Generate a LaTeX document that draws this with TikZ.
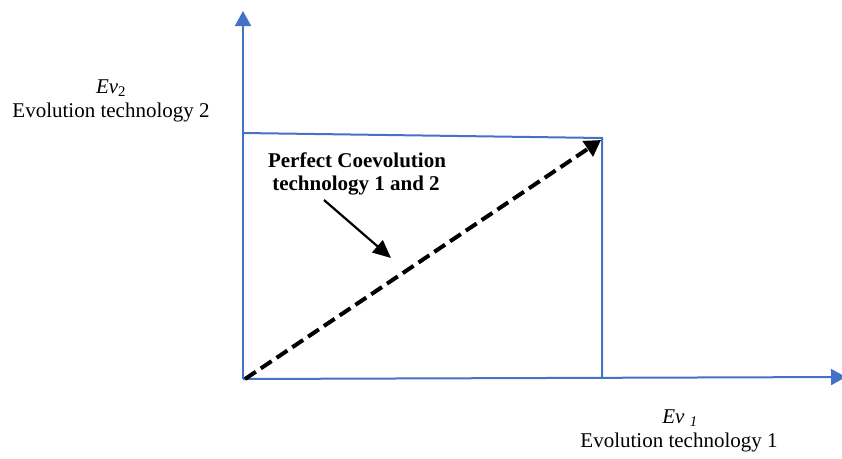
\documentclass[tikz,border=0pt]{standalone}
\usepackage{fontspec}
\setmainfont{Liberation Serif}
\usetikzlibrary{arrows.meta}
\definecolor{axisblue}{RGB}{68,114,196}
\tikzset{
  axisline/.style={draw=axisblue, line width=2pt},
  axisarrow/.style={axisline, -{Triangle[length=15pt,width=16pt]}},
  lbl/.style={font=\fontsize{21}{24}\selectfont, anchor=base, inner sep=0pt},
  boldlbl/.style={font=\fontsize{21}{24}\selectfont\bfseries, anchor=base, inner sep=0pt},
  diag/.style={draw=black, line width=4pt, dash pattern=on 13pt off 6pt, -{Triangle[length=16pt,width=18pt]}},
  pointer/.style={draw=black, line width=2.2pt, -{Triangle[length=18pt,width=16pt]}}
}
\begin{document}
\begin{tikzpicture}[x=1pt,y=-1pt]
\useasboundingbox (0,0) rectangle (842,458);
\coordinate (O) at (243,379);
\coordinate (Ytip) at (243,11);
\coordinate (Xtip) at (846,377);
\coordinate (TL) at (243,133);
\coordinate (TR) at (602,138);
\coordinate (BR) at (602,378);
\coordinate (Dstart) at (245,379);
\coordinate (Dtip) at (601,140);
\coordinate (Pstart) at (324,200);
\coordinate (Ptip) at (391,258);
% axes
\draw[axisarrow] (O) -- (Ytip);
\draw[axisarrow] (O) -- (Xtip);
% box
\draw[axisline] (TL) -- (TR) -- (BR);
% diagonal
\draw[diag] (Dstart) -- (Dtip);
% labels
\node[lbl] (ev2) at (111,93) {\textit{Ev}\textsubscript{2}};
\node[lbl] (et2) at (111,117) {Evolution technology 2};
\node[lbl] (ev1) at (680,423) {\textit{Ev \textsubscript{1}}};
\node[lbl] (et1) at (679,447) {Evolution technology 1};
\node[boldlbl] (pc1) at (357,167) {Perfect Coevolution};
\node[boldlbl] (pc2) at (356,190) {technology 1 and 2};
% pointer
\draw[pointer] (Pstart) -- (Ptip);
\end{tikzpicture}
\end{document}
